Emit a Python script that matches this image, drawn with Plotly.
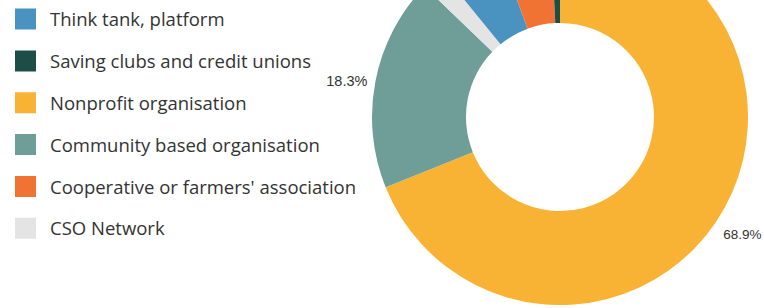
import plotly.graph_objects as go

# ---- data (legend order) ----
labels = [
    "Think tank, platform",
    "Saving clubs and credit unions",
    "Nonprofit organisation",
    "Community based organisation",
    "Cooperative or farmers' association",
    "CSO Network",
]
shares = [5.3, 0.8, 68.9, 18.3, 4.8, 1.9]
colors = ["#4a93c0", "#1e4d48", "#f9b334", "#6e9e97", "#f07334", "#e4e4e4"]
# clockwise order of the slices, starting at 12 o'clock
slice_order = [2, 3, 5, 0, 4, 1]
label_threshold = 10  # only slices above this share carry a value label

W, H_VIEW = 764, 308
CROP_TOP = 71            # the reference cuts off the top of the donut
H = H_VIEW + CROP_TOP

pie_labels = [labels[i] for i in slice_order]
pie_values = [shares[i] for i in slice_order]
pie_colors = [colors[i] for i in slice_order]

NB = "\u00a0"


def value_label(v, right_side):
    if v <= label_threshold:
        return ""
    s = f"{v:.1f}%"
    # nudge the outside labels a little further away from the ring
    if right_side:
        return '<span style="font-size:10px">' + NB + "</span><br>" + s
    return s + NB


pie_text = [value_label(v, k == 0) for k, v in enumerate(pie_values)]
text_sizes = [13.5 if k == 0 else 14.5 for k in range(len(pie_values))]

fig = go.Figure()
fig.add_trace(go.Pie(
    labels=pie_labels,
    values=pie_values,
    marker=dict(colors=pie_colors, line=dict(width=0)),
    hole=0.5,
    sort=False,
    direction="clockwise",
    rotation=0,
    text=pie_text,
    textinfo="text",
    textposition="outside",
    textfont=dict(family="Liberation Sans, Arial, sans-serif", size=text_sizes, color="#333333"),
    showlegend=False,
    automargin=False,
    domain=dict(x=[372 / W, 748 / W], y=[(H - 376) / H, 1.0]),
))

# legend entries, in the reference's legend order
for lab, col in zip(labels, colors):
    fig.add_trace(go.Scatter(
        x=[None], y=[None], mode="markers", name=lab, legendgroup=lab,
        marker=dict(symbol="square", size=16, color=col, line=dict(color=col, width=5)),
        hoverinfo="skip",
    ))

fig.update_layout(
    width=W, height=H,
    margin=dict(l=0, r=0, t=0, b=0, autoexpand=False),
    paper_bgcolor="white", plot_bgcolor="white",
    xaxis=dict(visible=False), yaxis=dict(visible=False),
    showlegend=True,
    legend=dict(
        x=1 / W, xanchor="left",
        y=1 - 71.5 / H, yanchor="top",
        font=dict(family="Open Sans", size=18.5, color="#333333"),
        itemsizing="trace", itemwidth=39,
        traceorder="grouped", tracegroupgap=14.8,
        bgcolor="rgba(0,0,0,0)",
    ),
)

post = """
var gd = document.getElementById('{plot_id}');
document.body.style.margin = '0';
gd.style.height = '%dpx';
gd.style.overflow = 'hidden';
var pc = gd.querySelector('.plot-container');
if (pc) { pc.style.marginTop = '-%dpx'; }
""" % (H_VIEW, CROP_TOP)

fig.write_html("out.html", post_script=post)
